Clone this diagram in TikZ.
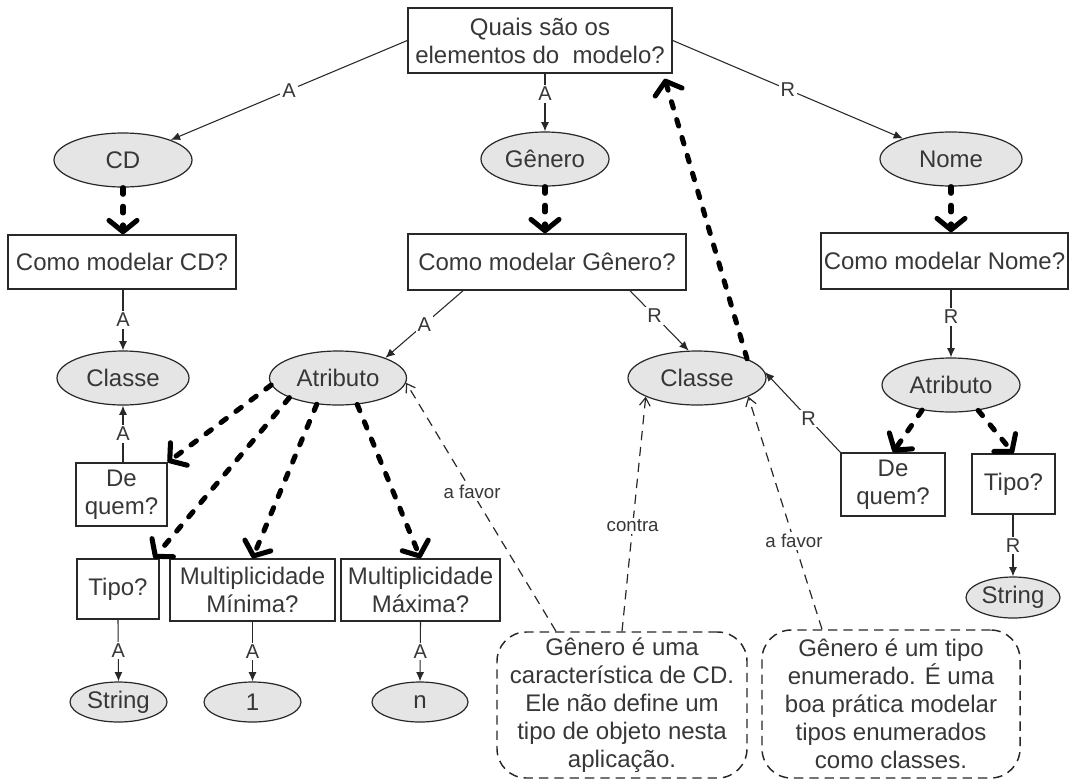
\documentclass[tikz,border=0pt]{standalone}
\usepackage{fontspec}
\setmainfont{Liberation Sans}
\usetikzlibrary{arrows.meta,shapes.geometric,calc}
\definecolor{txt}{RGB}{55,55,55}
\definecolor{ln}{RGB}{40,40,40}
\definecolor{ellfill}{RGB}{229,229,229}
\begin{document}
\begin{tikzpicture}[x=0.75pt,y=-0.75pt,
 base/.style={text=txt, font=\fontsize{18pt}{21pt}\selectfont, align=center, inner sep=0pt},
 qbox/.style={base, draw=ln, line width=1.1pt, rectangle},
 ell/.style={base, draw=ln, line width=0.9pt, ellipse, fill=ellfill},
 note/.style={base, draw=ln, line width=1.1pt, dash pattern=on 7pt off 4.5pt, rounded corners=22pt},
 conn/.style={draw=ln, line width=0.8pt, -{Latex[length=7pt,width=6pt]}},
 lbl/.style={fill=white, text=txt, font=\fontsize{15pt}{17pt}\selectfont, inner sep=1.5pt},
 sm/.style={fill=white, text=txt, font=\fontsize{14pt}{16pt}\selectfont, inner sep=1.5pt},
 thk/.style={draw=black, line width=3.8pt, dash pattern=on 5pt off 9pt, line cap=round, -{Straight Barb[length=8.5pt,width=21pt,round]}},
 dsh/.style={draw=ln, line width=0.9pt, dash pattern=on 7pt off 5pt, -{Straight Barb[length=6pt,width=8pt]}},
]
\useasboundingbox (0,0) rectangle (1069,782);

% nodes
\node[qbox, minimum width=198pt, minimum height=48.75pt] (top) at (540,40.5) {Quais são os\\elementos do\ \ modelo?};

\node[ell, minimum width=103.5pt, minimum height=40.5pt] (cd) at (123,160) {CD};
\node[ell, minimum width=96pt, minimum height=40.5pt] (gen) at (545,159) {Gênero};
\node[ell, minimum width=106.5pt, minimum height=40.5pt] (nome) at (951,159) {Nome};

\node[qbox, minimum width=171pt, minimum height=40.5pt] (cdq) at (122,262) {Como modelar CD?};
\node[qbox, minimum width=208.5pt, minimum height=42pt] (genq) at (547,262) {Como modelar Gênero?};
\node[qbox, minimum width=185.25pt, minimum height=42pt] (nomeq) at (944.5,261) {Como modelar Nome?};

\node[ell, minimum width=99pt, minimum height=40.5pt] (classeL) at (123,378) {Classe};
\node[ell, minimum width=102.75pt, minimum height=40.5pt] (atribL) at (338,378) {Atributo};
\node[ell, minimum width=103.5pt, minimum height=40.5pt] (classeM) at (697,378) {Classe};
\node[ell, minimum width=103.5pt, minimum height=40.5pt] (atribR) at (951,385) {Atributo};

\node[qbox, minimum width=68.25pt, minimum height=47.25pt] (dequemL) at (121.5,494.5) {De\\quem?};
\node[qbox, minimum width=61.5pt, minimum height=45pt] (tipoL) at (118,589) {Tipo?};
\node[qbox, minimum width=123.75pt, minimum height=46.5pt] (multMin) at (252.5,590) {Multiplicidade\\Mínima?};
\node[qbox, minimum width=119.25pt, minimum height=46.5pt] (multMax) at (420.5,590) {Multiplicidade\\Máxima?};

\node[ell, minimum width=72.75pt, minimum height=30pt] (stringL) at (118.5,702) {String};
\node[ell, minimum width=72.75pt, minimum height=30pt] (one) at (252.5,702) {1};
\node[ell, minimum width=72pt, minimum height=30pt] (enn) at (420,702) {n};

\node[qbox, minimum width=78pt, minimum height=47.25pt] (dequemR) at (893,484.5) {De\\quem?};
\node[qbox, minimum width=62.25pt, minimum height=45pt] (tipoR) at (1013.5,484) {Tipo?};
\node[ell, minimum width=70.5pt, minimum height=30.75pt] (stringR) at (1013,597.5) {String};

\node[note, minimum width=187.5pt, minimum height=109.5pt] (noteL) at (622,705) {Gênero é uma\\característica de CD.\\Ele não define um\\tipo de objeto nesta\\aplicação.};
\node[note, minimum width=193.5pt, minimum height=111pt] (noteR) at (891,704) {Gênero é um tipo\\enumerado. É uma\\boa prática modelar\\tipos enumerados\\como classes.};

% thin labelled connectors
\draw[conn] (top.west) -- node[lbl]{A} (cd);
\draw[conn] (top.south -| gen.north) -- node[lbl,pos=0.35]{A} (gen.north);
\draw[conn] (top.east) -- node[lbl]{R} (nome);

\draw[conn] (classeL.north |- cdq.south) -- node[lbl]{A} (classeL.north);
\draw[conn] (classeL.south |- dequemL.north) -- node[lbl]{A} (classeL.south);

\draw[conn] ([xshift=-63pt]genq.south) -- node[lbl]{A} (atribL.23);
\draw[conn] ([xshift=62.25pt]genq.south) -- node[lbl,pos=0.42]{R} (classeM.107);

\draw[conn] (atribR.north |- nomeq.south) -- node[lbl,pos=0.4]{R} (atribR.north);
\draw[conn] (stringR.north |- tipoR.south) -- node[lbl]{R} (stringR.north);
\draw[conn] (dequemR.north west) -- node[lbl,pos=0.42]{R} (classeM.5);

\draw[conn] (tipoL.south) -- node[lbl]{A} (stringL.north);
\draw[conn] (multMin.south) -- node[lbl]{A} (one.north);
\draw[conn] (multMax.south) -- node[lbl]{A} (enn.north);

% thick dashed connectors
\draw[thk] (cd.south) -- (cd.south |- cdq.north);
\draw[thk] (gen.south) -- (gen.south |- genq.north);
\draw[thk] (nome.south) -- (nome.south |- nomeq.north);
\draw[thk] (atribR.-139) -- (dequemR.north);
\draw[thk] (atribR.-43) -- (tipoR.north);
\draw[thk] (classeM.21) -- ([xshift=-6pt,yshift=-3.75pt]top.south east);
\draw[thk] (atribL.186) -- (dequemL.north east);
\draw[thk] (atribL.202) -- ([xshift=-4.5pt]tipoL.north east);
\draw[thk] (atribL.231) -- (multMin.north);
\draw[thk] (atribL.-54) -- (multMax.north);

% dashed argument connectors
\draw[dsh] ([xshift=-49.5pt]noteL.north) -- node[sm,pos=0.56]{a favor} (atribL.-4);
\draw[dsh] (noteL.north) -- node[sm,pos=0.45]{contra} (classeM.200);
\draw[dsh] ([xshift=-51.75pt]noteR.north) -- node[sm,pos=0.38]{a favor} (classeM.-20);
\end{tikzpicture}
\end{document}
